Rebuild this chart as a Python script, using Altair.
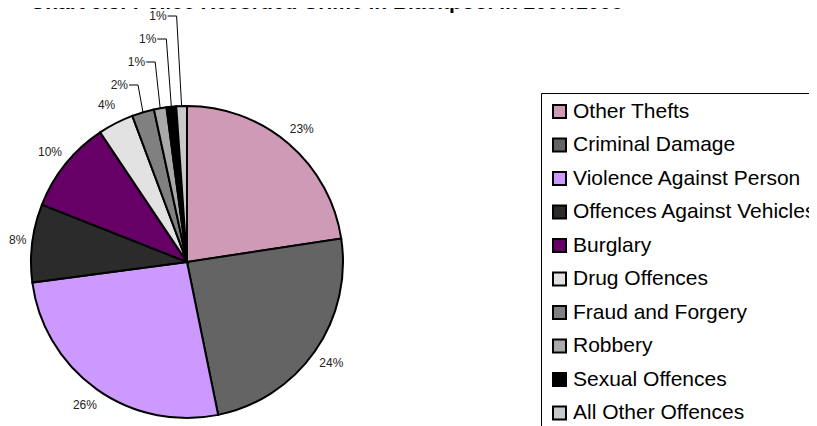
import math
import altair as alt
import pandas as pd

# ---- data ----
categories = ["Other Thefts", "Criminal Damage", "Violence Against Person",
              "Offences Against Vehicles", "Burglary", "Drug Offences",
              "Fraud and Forgery", "Robbery", "Sexual Offences", "All Other Offences"]
shares = [22.6, 24.2, 26.1, 8.1, 9.6, 3.7, 2.3, 1.3, 1.0, 1.1]
colors = ["#CE9AB6", "#646464", "#CC99FF", "#2B2B2B", "#660066",
          "#E2E2E2", "#808080", "#A9A9A9", "#000000", "#C9C9C9"]
title_text = "Chart 9.5:  Police Recorded Crime in Blackpool in 2007/2008"

# ---- layout ----
W, H = 801, 418
CX, CY, R = 179, 254, 156
LABEL_R = R + 20
FS = 12
FONT = "Liberation Sans"

labels = [f"{round(v)}%" for v in shares]
small = [i for i, v in enumerate(shares) if v < 3]
df = pd.DataFrame({
    "category": categories,
    "value": shares,
    "idx": list(range(len(categories))),
})

# label positions computed from the data angles
total = sum(shares)
cum = 0.0
mids = []
for v in shares:
    mids.append((cum + v / 2) / total * 2 * math.pi)
    cum += v

big_rows, rows, lab_rows = [], [], []
for i, a in enumerate(mids):
    if i in small:
        continue
    half_w = 0.28 * FS * len(labels[i]) + 2
    x = max(CX + LABEL_R * math.sin(a), half_w + 1)
    y = CY - LABEL_R * math.cos(a)
    big_rows.append({"x": x, "y": y, "t": labels[i]})
for k, i in enumerate(small):
    a = mids[i]
    xa = CX + R * math.sin(a)
    ya = CY - R * math.cos(a)
    ylab = (CY - R) - 21 - 23 * k
    pts = [(xa, ya), (xa - 5, ylab), (xa - 14, ylab)]
    for j, (x, y) in enumerate(pts):
        rows.append({"g": categories[i], "o": j, "x": x, "y": y})
    lab_rows.append({"x": xa - 15, "y": ylab, "t": labels[i]})
big_df = pd.DataFrame(big_rows)
lead_df = pd.DataFrame(rows)
lab_df = pd.DataFrame(lab_rows)

pie = alt.Chart(df).mark_arc(radius=R, stroke="black", strokeWidth=2).encode(
    theta=alt.Theta("value:Q", stack=True),
    order=alt.Order("idx:Q"),
    x=alt.value(CX), y=alt.value(CY),
    color=alt.Color("category:N",
                    scale=alt.Scale(domain=categories, range=colors),
                    legend=alt.Legend(orient="none", legendX=533, legendY=85,
                                      title=None, symbolType="square",
                                      symbolSize=169, symbolStrokeColor="black",
                                      symbolStrokeWidth=2, symbolOpacity=1,
                                      labelFontSize=21, labelFont=FONT,
                                      labelColor="black", labelLimit=500,
                                      labelOffset=3, rowPadding=11.5, padding=8,
                                      strokeColor="black", fillColor="white")),
)

pct = alt.Chart(big_df).mark_text(align="center", baseline="middle",
                                  fontSize=FS, font=FONT, color="#222222").encode(
    x=alt.X("x:Q", scale=None), y=alt.Y("y:Q", scale=None), text="t:N",
)

leaders = alt.Chart(lead_df).mark_line(color="black", strokeWidth=1).encode(
    x=alt.X("x:Q", scale=None), y=alt.Y("y:Q", scale=None),
    detail="g:N", order="o:Q",
)

small_labels = alt.Chart(lab_df).mark_text(align="right", baseline="middle",
                                           fontSize=FS, font=FONT, color="#222222").encode(
    x=alt.X("x:Q", scale=None), y=alt.Y("y:Q", scale=None), text="t:N",
)

title = alt.Chart(pd.DataFrame({"t": [title_text]})).mark_text(
    align="left", baseline="alphabetic", fontSize=21, fontWeight="bold",
    font=FONT, color="black").encode(
    text="t:N", x=alt.value(22), y=alt.value(1))

chart = alt.layer(pie, pct, leaders, small_labels, title).properties(
    width=W, height=H, autosize=alt.AutoSizeParams(type="none"), padding=0,
).configure_view(strokeWidth=0)

chart.save("out.html", embed_options={"renderer": "svg", "actions": False})
